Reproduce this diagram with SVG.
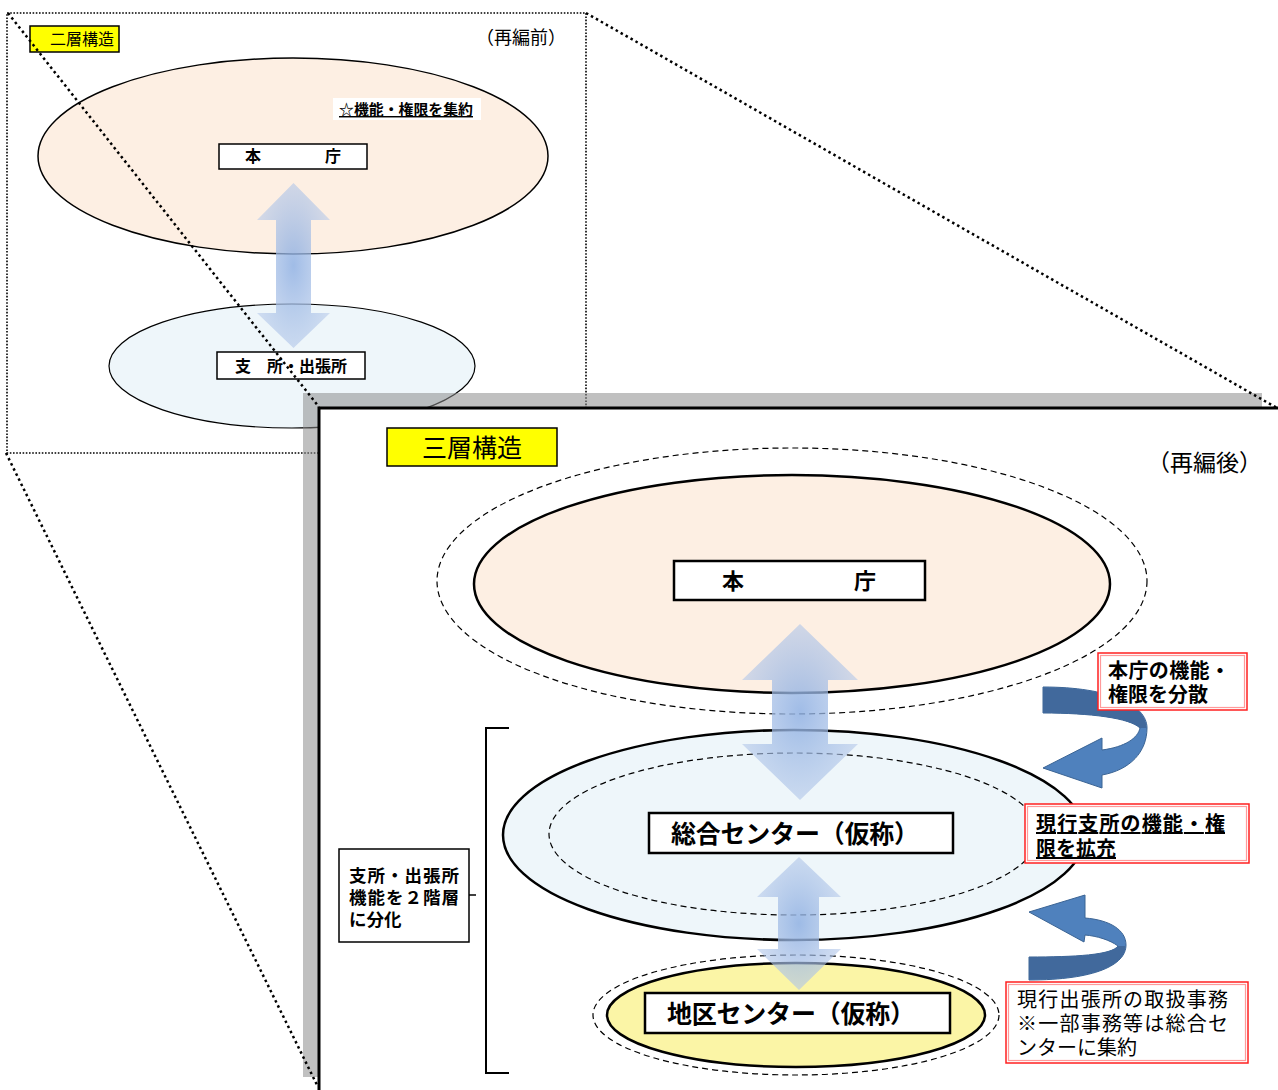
<svg xmlns="http://www.w3.org/2000/svg" width="1278" height="1090" viewBox="0 0 1278 1090">
<style>
text{font-family:"Noto Sans CJK JP","Noto Sans",sans-serif;fill:#000}
.b{font-weight:bold}
.lbl{fill:#fff;stroke:#000;stroke-width:1.5}
.lbl2{fill:#fff;stroke:#000;stroke-width:2.5}
.yel{fill:#ffff00;stroke:#000;stroke-width:1.5}
.dotbox{fill:none;stroke:#000;stroke-width:1.6;stroke-dasharray:1.6 1.6}
.zoomline{fill:none;stroke:#000;stroke-width:2.5;stroke-dasharray:2.5 3.2}
.dash{fill:none;stroke:#000;stroke-width:1.2;stroke-dasharray:6 4}
.peach{fill:#fdefe3;stroke:#000}
.blue{fill:#eef6fa;stroke:#000}
.ylw{fill:#fbf5a6;stroke:#000}
.redo{fill:#fff;stroke:#ff2020;stroke-width:1.5}
.redi{fill:none;stroke:#ff9a9a;stroke-width:1.2}
.cur{fill:#4f81bd;stroke:#3b6494;stroke-width:1}
.curd{fill:#41699c;stroke:none}
</style>
<defs>
<radialGradient id="ag" cx="0.5" cy="0.5" r="0.6">
<stop offset="0" stop-color="#8fb0e2" stop-opacity="0.85"/>
<stop offset="1" stop-color="#b9cbea" stop-opacity="0.55"/>
</radialGradient>
</defs>

<!-- before (二層構造) -->
<g id="before-frame">
<rect class="dotbox" x="7" y="13" width="579" height="440"/>
</g>
<g id="honcho-small">
<ellipse class="peach" stroke-width="1.5" cx="293" cy="156" rx="255" ry="98"/>
<rect class="lbl" x="219" y="144" width="148" height="25"/>
<text class="b" x="293" y="162" font-size="16" text-anchor="middle">本　　　　庁</text>
</g>
<g id="note-small">
<rect x="333" y="98" width="148" height="22" fill="#fff"/>
<text class="b" x="339" y="115" font-size="14.5" textLength="134" lengthAdjust="spacingAndGlyphs" text-decoration="underline">☆機能・権限を集約</text>
</g>
<g id="label-2layer">
<rect class="yel" x="30" y="26" width="89" height="26"/>
<text x="82" y="45" font-size="16" text-anchor="middle">二層構造</text>
</g>
<text x="566" y="44" font-size="18" text-anchor="end">（再編前）</text>
<g id="shisho-small">
<ellipse class="blue" stroke-width="1.2" cx="292" cy="366" rx="183" ry="62"/>
<rect class="lbl" x="217" y="352" width="148" height="27"/>
<text class="b" x="291" y="372" font-size="16" text-anchor="middle">支　所・出張所</text>
</g>
<g id="arrow-small">
<polygon fill="url(#ag)" points="293.5,183 330,220 311,220 311,313 330,313 293.5,348 257,313 276,313 276,220 257,220"/>
</g>

<!-- after frame -->
<rect x="303" y="393" width="959" height="684" fill="#8c8c8c" fill-opacity="0.55"/>
<rect x="319" y="408" width="970" height="700" fill="#fff" stroke="#000" stroke-width="3"/>

<g id="label-3layer">
<rect class="yel" stroke-width="2" x="387" y="428" width="170" height="38"/>
<text x="472" y="457" font-size="25" text-anchor="middle">三層構造</text>
</g>
<text x="1262" y="471" font-size="23" text-anchor="end">（再編後）</text>

<g id="honcho">
<ellipse class="dash" cx="792" cy="581" rx="355" ry="133"/>
<ellipse class="peach" stroke-width="2.5" cx="792" cy="584" rx="318" ry="109"/>
<rect class="lbl2" x="674" y="561" width="251" height="39"/>
<text class="b" x="799" y="589" font-size="22" text-anchor="middle">本　　　　　庁</text>
</g>

<g id="sogo">
<ellipse class="blue" stroke-width="2.5" cx="794" cy="835" rx="291" ry="105"/>
<ellipse class="dash" cx="794" cy="834" rx="245" ry="81"/>
<rect class="lbl2" x="649" y="813" width="304" height="40"/>
<text class="b" x="671" y="843" font-size="25" textLength="248" lengthAdjust="spacing">総合センター（仮称）</text>
</g>

<g id="chiku">
<ellipse class="dash" cx="796" cy="1015" rx="203" ry="60"/>
<ellipse class="ylw" stroke-width="2.5" cx="796" cy="1015" rx="189" ry="52"/>
<rect class="lbl2" x="645" y="993" width="305" height="40"/>
<text class="b" x="667" y="1023" font-size="25" textLength="248" lengthAdjust="spacing">地区センター（仮称）</text>
</g>

<g id="bunka">
<path d="M509,728 H486 V1073 H509" fill="none" stroke="#000" stroke-width="2"/>
<line x1="468" y1="895" x2="476" y2="895" stroke="#000" stroke-width="1.5"/>
<rect class="lbl" stroke-width="2" x="339" y="849" width="130" height="93"/>
<text class="b" font-size="17.5"><tspan x="349" y="882" textLength="110" lengthAdjust="spacing">支所・出張所</tspan><tspan x="349" y="904" textLength="110" lengthAdjust="spacing">機能を２階層</tspan><tspan x="349" y="926">に分化</tspan></text>
</g>

<g id="connectors">
<polygon fill="url(#ag)" points="800,624 858,680 828,680 828,744 858,744 800,800 742,744 772,744 772,680 742,680"/>
<polygon fill="url(#ag)" points="799,857 841,897 819,897 819,949 841,949 799,990 757,949 778,949 778,897 757,897"/>
<path class="cur" d="M1043,687 C1110,687 1147,705 1147,728 C1147,752 1130,770 1102,775 L1102,788 L1043,768 L1102,738 L1102,750 C1125,747 1138,738 1140,728 C1130,718 1090,713 1043,713 Z"/>
<path class="curd" d="M1043,687.5 C1110,687.5 1146.5,705 1146.5,728 L1140,728 C1130,718 1090,713 1043,713 Z"/>
<path class="cur" d="M1029,912 L1085,895 L1085,918 C1110,920 1126,930 1126,945 C1126,965 1095,980 1029,980 L1029,957 C1075,957 1112,955 1118,946 C1110,940 1097,936 1085,935 L1084,942 Z"/>
<path class="curd" d="M1029,957 C1075,957 1112,955 1118,946 L1125.5,946 C1125.5,965 1095,979.5 1029,979.5 Z"/>
</g>

<g id="note-bunsan">
<rect class="redo" x="1098" y="653" width="149" height="57"/>
<rect class="redi" x="1100.5" y="655.5" width="144" height="52"/>
<text class="b" font-size="20"><tspan x="1108" y="678" textLength="122" lengthAdjust="spacing">本庁の機能・</tspan><tspan x="1108" y="702">権限を分散</tspan></text>
</g>
<g id="note-kakuju">
<rect class="redo" x="1025" y="804" width="224" height="59"/>
<rect class="redi" x="1027.5" y="806.5" width="219" height="54"/>
<text class="b" font-size="20" text-decoration="underline"><tspan x="1036" y="831" textLength="189" lengthAdjust="spacing">現行支所の機能・権</tspan><tspan x="1036" y="856">限を拡充</tspan></text>
</g>
<g id="note-shucho">
<rect class="redo" x="1006" y="982" width="242" height="81"/>
<rect class="redi" x="1008.5" y="984.5" width="237" height="76"/>
<text font-size="20"><tspan x="1017" y="1007" textLength="211" lengthAdjust="spacing">現行出張所の取扱事務</tspan><tspan x="1017" y="1031" textLength="211" lengthAdjust="spacing">※一部事務等は総合セ</tspan><tspan x="1017" y="1055">ンターに集約</tspan></text>
</g>

<g id="zoom-lines">
<line class="zoomline" x1="8" y1="13" x2="319" y2="407"/>
<line class="zoomline" x1="6" y1="453" x2="318" y2="1087"/>
<line class="zoomline" x1="586" y1="13" x2="1277" y2="408"/>
</g>
</svg>
